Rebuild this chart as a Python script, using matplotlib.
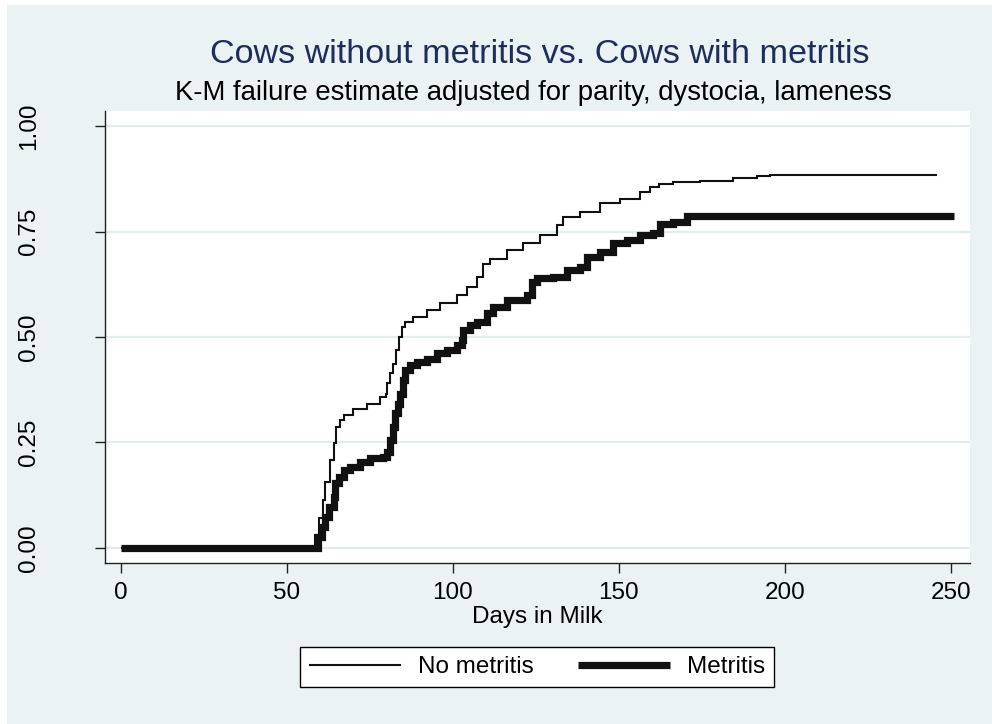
import matplotlib
matplotlib.use("Agg")
import matplotlib.pyplot as plt
from matplotlib.patches import Rectangle

# Kaplan-Meier failure estimates (days in milk, cumulative failure)
no_metritis_days = [0, 58.5, 59.8, 60.9, 61.6, 62.9, 64.1, 64.9, 65.9, 67.1, 70.1, 74.1,
                    78.1, 79.9, 80.3, 81.1, 82.1, 82.9, 83.9, 84.6, 85.6, 88.1, 92.2, 96.2,
                    101.2, 104.2, 107.2, 109.2, 111.2, 116.3, 121.2, 126.3, 131.3, 133.3,
                    138.3, 144.3, 150.4, 156.4, 159.4, 162.0, 166.4, 174.4, 184.5, 191.5,
                    195.5, 245.7]
no_metritis_fail = [0, 0.03, 0.07, 0.113, 0.157, 0.208, 0.248, 0.287, 0.303, 0.315, 0.33,
                    0.342, 0.358, 0.366, 0.39, 0.414, 0.437, 0.469, 0.5, 0.524, 0.536, 0.548,
                    0.564, 0.58, 0.599, 0.619, 0.643, 0.674, 0.686, 0.706, 0.722, 0.742,
                    0.765, 0.785, 0.797, 0.817, 0.828, 0.844, 0.856, 0.862, 0.868, 0.87,
                    0.876, 0.881, 0.884, 0.884]

metritis_days = [0, 58.5, 59.5, 60.6, 61.6, 62.6, 64.1, 64.6, 65.6, 67.1, 69.1, 72.1, 75.1,
                 79.1, 80.1, 81.1, 81.9, 82.6, 83.6, 84.1, 84.9, 85.6, 87.1, 89.2, 92.2,
                 95.2, 98.2, 101.2, 102.7, 103.2, 105.2, 107.2, 110.2, 112.2, 116.3, 122.3,
                 123.8, 125.3, 130.3, 134.3, 138.3, 140.3, 144.3, 148.3, 152.4, 156.4,
                 160.4, 162.4, 166.4, 170.4, 250.9]
metritis_fail = [0, 0.0, 0.026, 0.05, 0.074, 0.097, 0.121, 0.153, 0.168, 0.184, 0.192, 0.204,
                 0.212, 0.216, 0.228, 0.255, 0.287, 0.319, 0.342, 0.366, 0.398, 0.421, 0.433,
                 0.441, 0.449, 0.461, 0.469, 0.48, 0.493, 0.516, 0.528, 0.535, 0.556, 0.571,
                 0.587, 0.599, 0.631, 0.639, 0.643, 0.659, 0.666, 0.69, 0.702, 0.722, 0.73,
                 0.742, 0.746, 0.769, 0.773, 0.787, 0.787]

x_ticks = [0, 50, 100, 150, 200, 250]
y_ticks = [0.0, 0.25, 0.5, 0.75, 1.0]
y_tick_labels = ["0.00", "0.25", "0.50", "0.75", "1.00"]

title = "Cows without metritis vs. Cows with metritis"
subtitle = "K-M failure estimate adjusted for parity, dystocia, lameness"
x_label = "Days in Milk"
series_labels = ["No metritis", "Metritis"]

plt.rcParams["font.family"] = ["Liberation Sans", "DejaVu Sans"]

BG = "#eaf2f3"
GRID = "#e3ecef"
NAVY = "#1c2e5c"

W, H = 992, 724
fig = plt.figure(figsize=(W / 100, H / 100), dpi=100, facecolor="white")
fig.patches.append(Rectangle((7 / W, 0), 1, 1 - 5 / H, transform=fig.transFigure,
                             facecolor=BG, edgecolor="none", zorder=-10))

ax = fig.add_axes([105 / W, 1 - 563 / H, (970 - 105) / W, (563 - 111) / H])
ax.set_facecolor("white")

for y in y_ticks:
    ax.axhline(y, color=GRID, lw=1.6, zorder=1)

l1, = ax.plot(no_metritis_days, no_metritis_fail, drawstyle="steps-post", color="#111111",
              lw=1.5, zorder=3, solid_joinstyle="miter", solid_capstyle="butt")
l2, = ax.plot(metritis_days, metritis_fail, drawstyle="steps-post", color="#111111",
              lw=5.2, zorder=2, solid_joinstyle="miter", solid_capstyle="butt")

ax.set_xlim(-4.7, 255.7)
ax.set_ylim(-0.036, 1.036)
ax.set_xticks(x_ticks)
ax.set_yticks(y_ticks)
ax.set_yticklabels(y_tick_labels, rotation=90, va="center")

for side in ("top", "right"):
    ax.spines[side].set_visible(False)
for side in ("left", "bottom"):
    ax.spines[side].set_linewidth(1.0)
    ax.spines[side].set_color("#222222")

ax.tick_params(axis="both", direction="out", length=7, width=1.0, color="#222222",
               labelsize=17.5, labelcolor="black")
ax.tick_params(axis="x", pad=7)
ax.tick_params(axis="y", pad=40)

ax.set_xlabel(x_label, fontsize=17.5)
ax.xaxis.set_label_coords(0.5, -0.096)

fig.text(540 / W, 1 - 63 / H, title, ha="center", va="baseline", fontsize=24.6, color=NAVY)
fig.text(533 / W, 1 - 100 / H, subtitle, ha="center", va="baseline", fontsize=19.8,
         color="black")

leg = fig.legend([l1, l2], series_labels, loc="center", ncol=2,
                 bbox_to_anchor=(537 / W, 1 - 667 / H), fontsize=17.5, frameon=True,
                 fancybox=False, edgecolor="black", facecolor="white", framealpha=1,
                 handlelength=3.8, handletextpad=0.7, columnspacing=1.8, borderpad=0.35,
                 borderaxespad=0)
leg.get_frame().set_linewidth(1.0)

fig.savefig("out.png", dpi=100, facecolor=fig.get_facecolor())
